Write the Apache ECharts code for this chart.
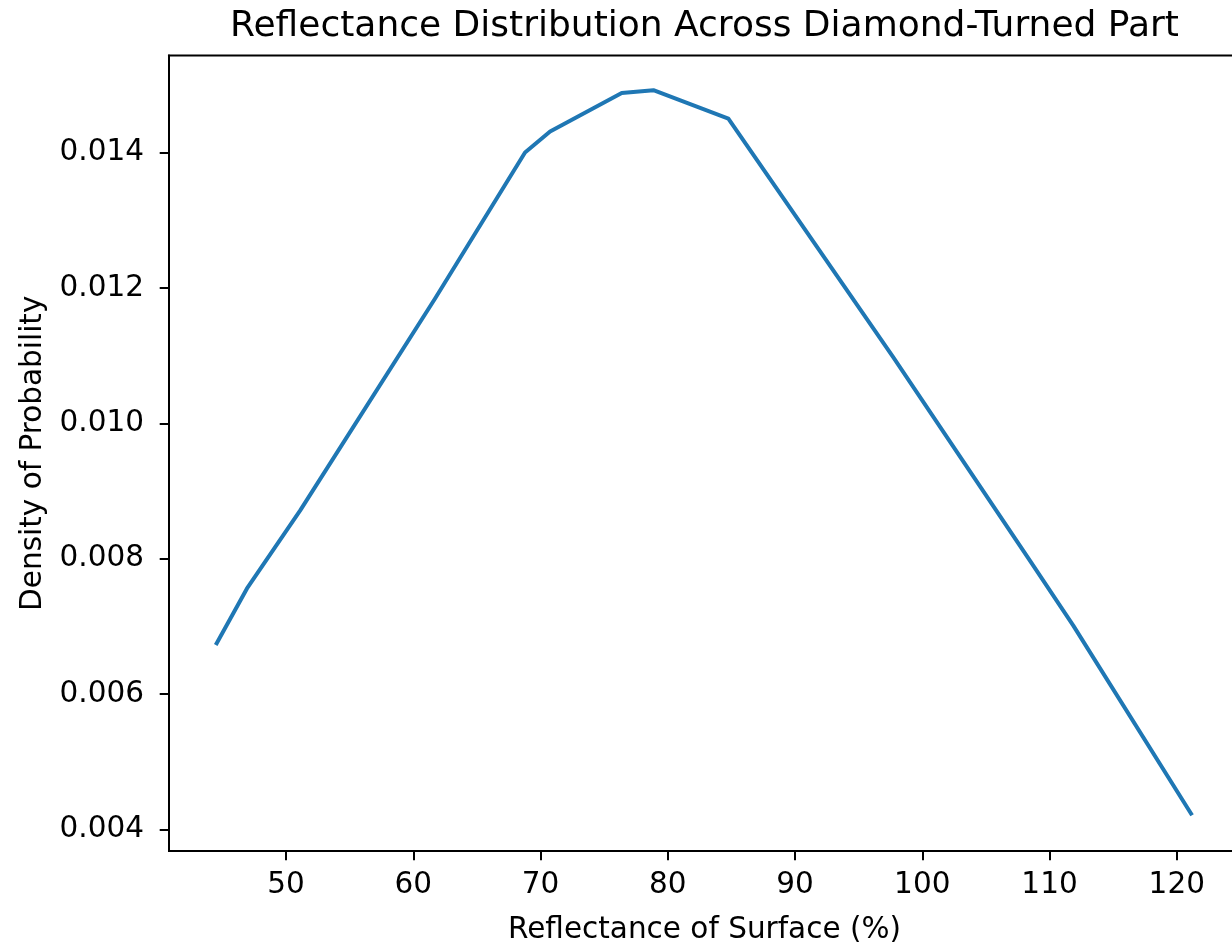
<!DOCTYPE html>
<html>
<head>
<meta charset="utf-8">
<title>Reflectance Distribution Across Diamond-Turned Part</title>
<script src="https://cdn.jsdelivr.net/npm/echarts@6/dist/echarts.min.js"></script>
<style>
  html, body { margin: 0; padding: 0; background: #fff; overflow: hidden; width: 1232px; height: 950px; }
  /* the plot box runs slightly past the right edge of the page */
  #chart { width: 1250px; height: 950px; }
</style>
</head>
<body>
<div id="chart"></div>
<script>
// Sorted reflectance samples (%) and the fitted density at each one
const reflectance = [44.55, 46.93, 51.1, 61.7, 68.78, 70.75, 76.38, 78.87, 84.76, 97.7, 108.5, 111.87, 121.12];
const density = [0.00675, 0.00756, 0.00871, 0.01184, 0.01400, 0.01431, 0.01488, 0.01492, 0.01450, 0.01098, 0.00796, 0.00701, 0.004235];

// Tick positions on each axis
const xTicks = [50, 60, 70, 80, 90, 100, 110, 120];
const yTicks = [0.004, 0.006, 0.008, 0.010, 0.012, 0.014];

const points = reflectance.map((x, i) => [x, density[i]]);

const FONT = 'DejaVu Sans';
const LABEL_SIZE = 29.5;
const chart = echarts.init(document.getElementById('chart'), null, { renderer: 'canvas' });

chart.setOption({
  animation: false,
  backgroundColor: '#ffffff',
  title: {
    text: 'Reflectance Distribution Across Diamond-Turned Part',
    left: 704.5,
    top: 9,
    padding: 0,
    textAlign: 'center',
    textStyle: { fontFamily: FONT, fontSize: 36, fontWeight: 'normal', color: '#000' }
  },
  grid: {
    left: 169,
    right: 10,
    top: 55.5,
    bottom: 95,
    show: true,
    borderColor: '#000',
    borderWidth: 2,
    backgroundColor: 'transparent',
    containLabel: false
  },
  xAxis: {
    type: 'value',
    min: 40.8,
    max: 124.97,
    name: 'Reflectance of Surface (%)',
    nameLocation: 'middle',
    nameGap: 64,
    nameTextStyle: { fontFamily: FONT, fontSize: LABEL_SIZE, color: '#000' },
    axisLine: { show: true, onZero: false, lineStyle: { color: '#000', width: 2 } },
    axisTick: { show: true, inside: false, length: 9.3, customValues: xTicks, lineStyle: { color: '#000', width: 2 } },
    axisLabel: {
      show: true,
      margin: 19,
      customValues: xTicks,
      fontFamily: FONT,
      fontSize: LABEL_SIZE,
      color: '#000',
      formatter: v => String(v)
    },
    splitLine: { show: false }
  },
  yAxis: {
    type: 'value',
    min: 0.003681,
    max: 0.015433,
    name: 'Density of Probability',
    nameLocation: 'middle',
    nameGap: 120,
    nameRotate: 90,
    nameTextStyle: { fontFamily: FONT, fontSize: LABEL_SIZE, color: '#000' },
    axisLine: { show: true, onZero: false, lineStyle: { color: '#000', width: 2 } },
    axisTick: { show: true, inside: false, length: 9.3, customValues: yTicks, lineStyle: { color: '#000', width: 2 } },
    axisLabel: {
      show: true,
      margin: 25,
      customValues: yTicks,
      fontFamily: FONT,
      fontSize: LABEL_SIZE,
      color: '#000',
      formatter: v => v.toFixed(3)
    },
    splitLine: { show: false }
  },
  series: [{
    type: 'line',
    data: points,
    smooth: false,
    showSymbol: false,
    symbol: 'none',
    clip: true,
    lineStyle: { color: '#1f77b4', width: 4, cap: 'square', join: 'round' }
  }]
});
</script>
</body>
</html>
